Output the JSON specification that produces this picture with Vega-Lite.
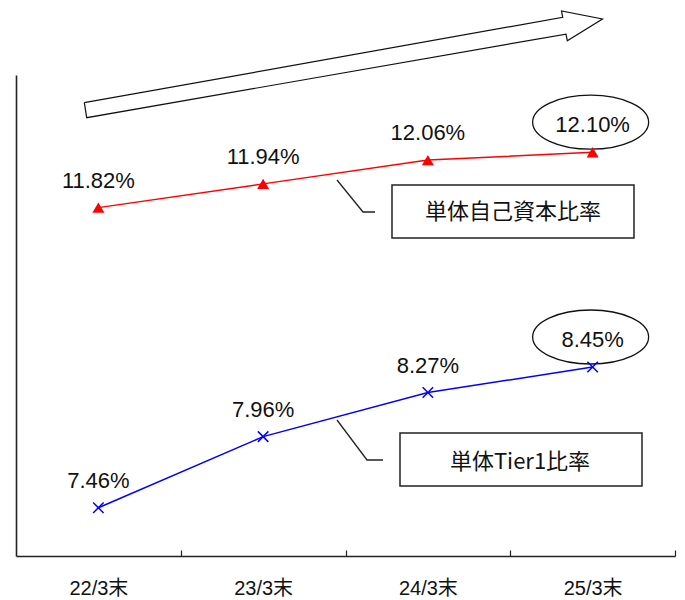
{
  "$schema": "https://vega.github.io/schema/vega-lite/v6.json",
  "width": 659,
  "height": 481,
  "autosize": {"type": "none"},
  "padding": {"left": 16, "top": 75, "right": 10, "bottom": 44},
  "background": "white",
  "config": {"view": {"stroke": null}, "font": "Liberation Sans"},
  "datasets": {
    "red": [
      {"year": 2022, "rate": 0.1182},
      {"year": 2023, "rate": 0.1194},
      {"year": 2024, "rate": 0.1206},
      {"year": 2025, "rate": 0.1210}
    ],
    "blue": [
      {"year": 2022, "rate": 0.0746},
      {"year": 2023, "rate": 0.0796},
      {"year": 2024, "rate": 0.0827},
      {"year": 2025, "rate": 0.0845}
    ],
    "arrow": [
      {"k": 1, "year": 2021.9146, "rate": 0.12350},
      {"k": 2, "year": 2024.8184, "rate": 0.127815},
      {"k": 3, "year": 2024.8111, "rate": 0.128133},
      {"k": 4, "year": 2025.0599, "rate": 0.127729},
      {"k": 5, "year": 2024.8463, "rate": 0.126633},
      {"k": 6, "year": 2024.8384, "rate": 0.126967},
      {"k": 7, "year": 2021.9291, "rate": 0.122743},
      {"k": 8, "year": 2021.9146, "rate": 0.12350}
    ],
    "leadRed": [
      {"k": 1, "year": 2023.4484, "rate": 0.119595},
      {"k": 2, "year": 2023.6062, "rate": 0.117979},
      {"k": 3, "year": 2023.6791, "rate": 0.117979}
    ],
    "boxRed": [
      {"name": "単体自己資本比率", "year": 2023.7822, "year2": 2025.2511, "rate": 0.119343, "rate2": 0.116665, "tx": 2024.5167, "ty": 0.117979}
    ],
    "leadBlue": [
      {"k": 1, "year": 2023.4484, "rate": 0.080771},
      {"k": 2, "year": 2023.6305, "rate": 0.077957},
      {"k": 3, "year": 2023.7276, "rate": 0.077957}
    ],
    "boxBlue": [
      {"name": "単体Tier1比率", "year": 2023.8308, "year2": 2025.2997, "rate": 0.079856, "rate2": 0.076127, "tx": 2024.5592, "ty": 0.077816}
    ]
  },
  "layer": [
    {
      "layer": [
        {
          "data": {"name": "arrow"},
          "mark": {"type": "line", "stroke": "#111", "strokeWidth": 1.2, "strokeJoin": "miter"},
          "encoding": {
            "x": {"field": "year", "type": "quantitative", "title": null},
            "y": {"field": "rate", "type": "quantitative", "title": null},
            "order": {"field": "k"}
          }
        },
        {
          "data": {"name": "red"},
          "transform": [{"filter": "datum.year == 2025"}],
          "mark": {"type": "point", "shape": "M -1 0 C -1 -0.2571 -0.5523 -0.4655 0 -0.4655 C 0.5523 -0.4655 1 -0.2571 1 0 C 1 0.2571 0.5523 0.4655 0 0.4655 C -0.5523 0.4655 -1 0.2571 -1 0 Z", "size": 13456, "filled": false, "stroke": "#111", "strokeWidth": 1.3, "opacity": 1, "xOffset": -2, "yOffset": -30},
          "encoding": {
            "x": {"field": "year", "type": "quantitative", "title": null},
            "y": {"field": "rate", "type": "quantitative", "title": null}
          }
        },
        {
          "data": {"name": "red"},
          "mark": {"type": "line", "stroke": "#ff0000", "strokeWidth": 1.5},
          "encoding": {
            "x": {
              "field": "year", "type": "quantitative", "title": null,
              "scale": {"domain": [2021.5, 2025.5], "nice": false, "zero": false},
              "axis": {
                "values": [2022, 2022.5, 2023, 2023.5, 2024, 2024.5, 2025, 2025.5],
                "grid": false, "title": null,
                "domainColor": "#222", "domainWidth": 1.6,
                "tickColor": "#222", "tickWidth": 1.2, "tickSize": -6,
                "tickOpacity": {"condition": {"test": "datum.value % 1 !== 0", "value": 1}, "value": 0},
                "labelExpr": "datum.value % 1 === 0 ? substring(toString(datum.value), 2) + '/3末' : ''",
                "labelFont": "Liberation Sans, Noto Sans CJK JP",
                "labelFontSize": 20, "labelColor": "#111",
                "labelPadding": 28, "labelOverlap": false, "labelFlush": false, "labelBound": false
              }
            },
            "y": {
              "field": "rate", "type": "quantitative", "title": null,
              "scale": {"domain": [0.1006, 0.1249], "nice": false, "zero": false},
              "axis": {"orient": "left", "labels": false, "ticks": false, "grid": false, "title": null, "domainColor": "#222", "domainWidth": 1.6}
            }
          }
        },
        {
          "data": {"name": "red"},
          "mark": {"type": "point", "shape": "triangle-up", "size": 144, "filled": true, "fill": "#ff0000", "opacity": 1},
          "encoding": {
            "x": {"field": "year", "type": "quantitative", "title": null},
            "y": {"field": "rate", "type": "quantitative", "title": null}
          }
        },
        {
          "data": {"name": "red"},
          "mark": {"type": "text", "dy": -20, "baseline": "alphabetic", "align": "center", "font": "Liberation Sans", "fontSize": 22, "fill": "#111"},
          "encoding": {
            "x": {"field": "year", "type": "quantitative", "title": null},
            "y": {"field": "rate", "type": "quantitative", "title": null},
            "text": {"field": "rate", "format": ".2%"}
          }
        },
        {
          "data": {"name": "leadRed"},
          "mark": {"type": "line", "stroke": "#222", "strokeWidth": 1.3},
          "encoding": {
            "x": {"field": "year", "type": "quantitative", "title": null},
            "y": {"field": "rate", "type": "quantitative", "title": null},
            "order": {"field": "k"}
          }
        },
        {
          "data": {"name": "boxRed"},
          "mark": {"type": "rect", "fill": "white", "stroke": "#222", "strokeWidth": 1.5},
          "encoding": {
            "x": {"field": "year", "type": "quantitative", "title": null},
            "x2": {"field": "year2"},
            "y": {"field": "rate", "type": "quantitative", "title": null},
            "y2": {"field": "rate2"}
          }
        },
        {
          "data": {"name": "boxRed"},
          "mark": {"type": "text", "align": "center", "baseline": "middle", "font": "Noto Sans CJK JP", "fontSize": 22, "fill": "#111"},
          "encoding": {
            "x": {"field": "tx", "type": "quantitative", "title": null},
            "y": {"field": "ty", "type": "quantitative", "title": null},
            "text": {"field": "name"}
          }
        }
      ]
    },
    {
      "layer": [
        {
          "data": {"name": "blue"},
          "transform": [{"filter": "datum.year == 2025"}],
          "mark": {"type": "point", "shape": "M -1 0 C -1 -0.2571 -0.5523 -0.4655 0 -0.4655 C 0.5523 -0.4655 1 -0.2571 1 0 C 1 0.2571 0.5523 0.4655 0 0.4655 C -0.5523 0.4655 -1 0.2571 -1 0 Z", "size": 13456, "filled": false, "stroke": "#111", "strokeWidth": 1.3, "opacity": 1, "xOffset": -2, "yOffset": -30},
          "encoding": {
            "x": {"field": "year", "type": "quantitative", "title": null},
            "y": {"field": "rate", "type": "quantitative", "title": null, "axis": null}
          }
        },
        {
          "data": {"name": "blue"},
          "mark": {"type": "line", "stroke": "#0000ff", "strokeWidth": 1.5},
          "encoding": {
            "x": {"field": "year", "type": "quantitative", "title": null},
            "y": {
              "field": "rate", "type": "quantitative", "title": null, "axis": null,
              "scale": {"domain": [0.0712, 0.10505], "nice": false, "zero": false}
            }
          }
        },
        {
          "data": {"name": "blue"},
          "mark": {"type": "point", "shape": "M -1 -1 L 1 1 M -1 1 L 1 -1", "size": 110, "filled": false, "stroke": "#0000ff", "strokeWidth": 1.5, "opacity": 1},
          "encoding": {
            "x": {"field": "year", "type": "quantitative", "title": null},
            "y": {"field": "rate", "type": "quantitative", "title": null, "axis": null}
          }
        },
        {
          "data": {"name": "blue"},
          "mark": {"type": "text", "dy": -20, "baseline": "alphabetic", "align": "center", "font": "Liberation Sans", "fontSize": 22, "fill": "#111"},
          "encoding": {
            "x": {"field": "year", "type": "quantitative", "title": null},
            "y": {"field": "rate", "type": "quantitative", "title": null, "axis": null},
            "text": {"field": "rate", "format": ".2%"}
          }
        },
        {
          "data": {"name": "leadBlue"},
          "mark": {"type": "line", "stroke": "#222", "strokeWidth": 1.3},
          "encoding": {
            "x": {"field": "year", "type": "quantitative", "title": null},
            "y": {"field": "rate", "type": "quantitative", "title": null, "axis": null},
            "order": {"field": "k"}
          }
        },
        {
          "data": {"name": "boxBlue"},
          "mark": {"type": "rect", "fill": "white", "stroke": "#222", "strokeWidth": 1.5},
          "encoding": {
            "x": {"field": "year", "type": "quantitative", "title": null},
            "x2": {"field": "year2"},
            "y": {"field": "rate", "type": "quantitative", "title": null, "axis": null},
            "y2": {"field": "rate2"}
          }
        },
        {
          "data": {"name": "boxBlue"},
          "mark": {"type": "text", "align": "center", "baseline": "middle", "font": "Noto Sans CJK JP", "fontSize": 22, "fill": "#111"},
          "encoding": {
            "x": {"field": "tx", "type": "quantitative", "title": null},
            "y": {"field": "ty", "type": "quantitative", "title": null, "axis": null},
            "text": {"field": "name"}
          }
        }
      ]
    }
  ],
  "resolve": {"scale": {"y": "independent"}}
}
